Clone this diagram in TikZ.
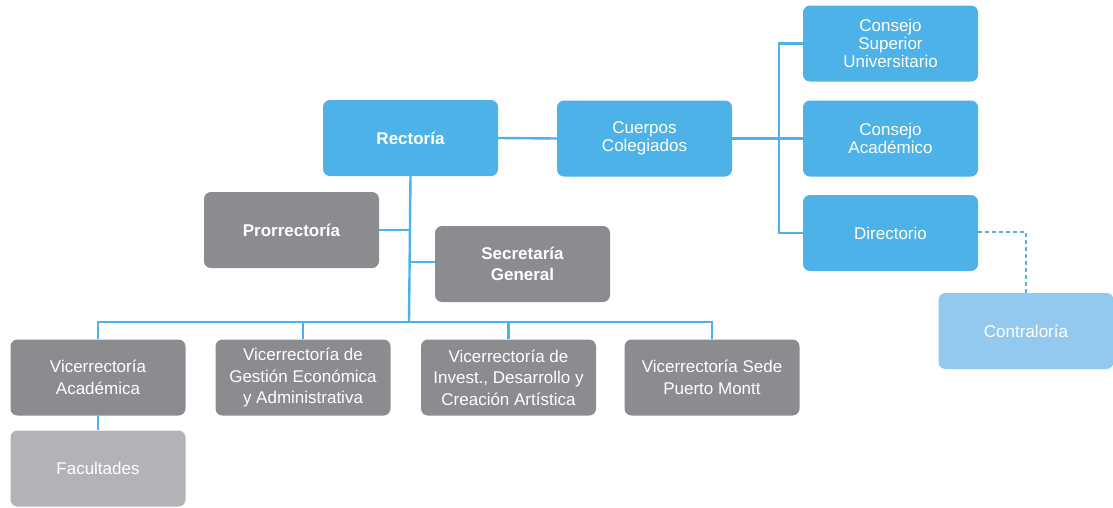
\documentclass[tikz,border=0pt]{standalone}
\usepackage{fontspec}
\setmainfont{Liberation Sans}
\definecolor{ublue}{HTML}{4DB2E7}
\definecolor{ugray}{HTML}{8B8C8F}
\definecolor{ulgray}{HTML}{B2B3B6}
\definecolor{ulblue}{HTML}{93C9EE}
\tikzset{
  box/.style={rounded corners=7pt, minimum width=175pt, minimum height=76pt, align=center,
    text=white, inner sep=2pt},
  bluebox/.style={box, fill=ublue, font=\fontsize{17}{18.3}\selectfont},
  graybox/.style={box, fill=ugray, font=\fontsize{17}{21.5}\selectfont},
  lgraybox/.style={box, fill=ulgray, font=\fontsize{17}{21.5}\selectfont},
  lbluebox/.style={box, fill=ulblue, font=\fontsize{17}{18.3}\selectfont},
  boldtext/.style={font=\fontsize{17}{21}\selectfont\bfseries},
  conn/.style={draw=ublue, line width=2.4pt},
  dconn/.style={draw=ublue, line width=2.2pt, dash pattern=on 4pt off 3pt},
}
\begin{document}
\begin{tikzpicture}[x=1pt,y=-1pt]
\useasboundingbox (0,0) rectangle (1113,507);
\node[bluebox, boldtext] (rec) at (410.5,138) {Rector\'ia};
\node[bluebox] (cc) at (644.5,138.5) {Cuerpos\\Colegiados};
\node[bluebox] (csu) at (890.5,43.5) {Consejo\\Superior\\Universitario};
\node[bluebox] (cac) at (890.5,138.5) {Consejo\\Acad\'emico};
\node[bluebox] (dir) at (890.5,233) {Directorio};
\node[lbluebox] (con) at (1026,331) {Contralor\'ia};
\node[graybox, boldtext] (pro) at (291.5,230) {Prorrector\'ia};
\node[graybox, boldtext] (sec) at (522.5,264) {Secretar\'ia\\General};
\node[graybox] (va) at (98,377.5) {Vicerrector\'ia\\Acad\'emica};
\node[lgraybox] (fac) at (98,468.5) {Facultades};
\node[graybox] (vg) at (303,377.5) {Vicerrector\'ia de\\Gesti\'on Econ\'omica\\y Administrativa};
\node[graybox] (vi) at (508.5,377.5) {Vicerrector\'ia de\\Invest., Desarrollo y\\Creaci\'on Art\'istica};
\node[graybox] (vs) at (712,377.5) {Vicerrector\'ia Sede\\Puerto Montt};
\coordinate (bus) at (409,322);
\coordinate (brk) at (779,138);
\coordinate (dsh) at (1026,232);
\path[conn] (rec.east) -- (cc.west);
\path[conn] (cc.east) -- (cac.west);
\path[conn] (csu.west) -- (csu.west -| brk) -- (dir.west -| brk) -- (dir.west);
\path[conn] (rec.south) -- (bus);
\path[conn] (pro.east) -- (pro.east -| rec.south);
\path[conn] (sec.west |- 0,262) -- (rec.south |- 0,262);
\path[conn] (va.north) -- (va.north |- bus) -- (vs.north |- bus) -- (vs.north);
\path[conn] (vg.north) -- (vg.north |- bus);
\path[conn] (vi.north) -- (vi.north |- bus);
\path[conn] (va.south) -- (fac.north);
\path[dconn] (dir.east |- dsh) -- (dsh) -- (con.north);
\end{tikzpicture}
\end{document}
